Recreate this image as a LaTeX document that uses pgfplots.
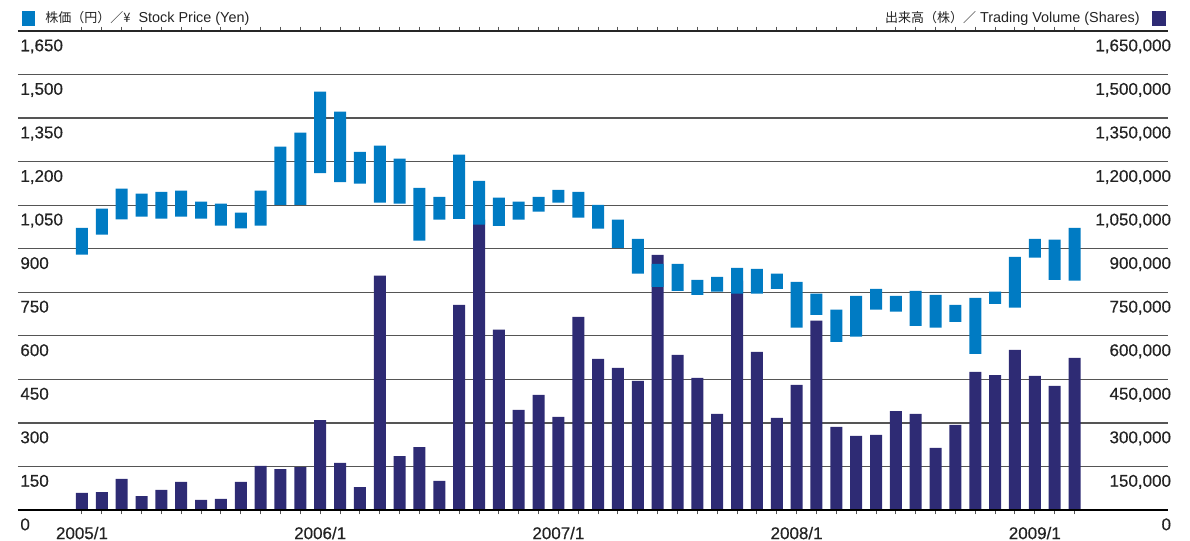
\documentclass[border=0pt]{standalone}
\usepackage{fontspec}
\setmainfont{Liberation Sans}
\newfontfamily\tickfont[FakeBold=0.4]{Liberation Sans}
\newfontfamily\cjk{Noto Sans CJK JP}
\usepackage{pgfplots}
\usepackage{pgfplotstable}
\pgfplotsset{compat=1.18}
\definecolor{price}{RGB}{0,123,195}
\definecolor{vol}{RGB}{46,43,116}
\definecolor{gridc}{RGB}{85,85,85}
\definecolor{txt}{RGB}{35,35,35}

\pgfplotstableread{
i low high vol
0 880 972 59000
1 949 1038 62000
2 1001 1107 107000
3 1011 1090 48000
4 1004 1096 69000
5 1011 1100 97000
6 1004 1062 35000
7 980 1055 38000
8 970 1024 97000
9 980 1100 152000
10 1051 1252 141000
11 1051 1300 148000
12 1160 1441 310000
13 1129 1372 162000
14 1124 1234 79000
15 1059 1255 807000
16 1055 1210 186000
17 928 1110 217000
18 1000 1079 100000
19 1003 1224 707000
20 983 1134 1000000
21 979 1076 621000
22 1000 1062 345000
23 1028 1079 397000
24 1059 1103 321000
25 1007 1096 665000
26 969 1051 521000
27 903 1000 490000
28 814 934 445000
29 769 848 879000
30 755 848 534000
31 741 793 455000
32 752 803 331000
33 745 834 790000
34 745 831 545000
35 762 814 317000
36 628 786 431000
37 672 745 652000
38 579 690 286000
39 597 738 255000
40 690 762 259000
41 683 738 341000
42 634 755 331000
43 628 741 214000
44 648 707 293000
45 538 731 476000
46 710 752 465000
47 697 872 552000
48 869 934 462000
49 793 931 428000
50 790 972 524000
}\data

\begin{document}
\begin{tikzpicture}
\useasboundingbox (-9pt,-15.5pt) rectangle (586pt,255pt);
\pgfplotsset{
  common/.style={
    scale only axis, width=575pt, height=239.5pt,
    xmin=-3.224, xmax=54.71, ymin=0,
    axis line style={draw=none},
    ytick style={draw=none},
    tick label style={font=\tickfont\fontsize{8.5}{10}\selectfont, text=txt},
    /pgf/number format/assume math mode=true,
    /pgf/number format/1000 sep={,},
    /pgf/number format/fixed,
    scaled y ticks=false,
  }
}
% volume axis (bottom layer)
\begin{axis}[common,
  ymax=1650000,
  ytick={0,150000,...,1650000},
  yticklabel pos=right,
  yticklabel style={anchor=north east, inner sep=0pt, yshift=-4pt, xshift=-0.5pt},
  ymajorgrids, grid style={gridc, line width=0.6pt},
  xtick={0,...,50},
  xticklabels={2005/1,,,,,,,,,,,,2006/1,,,,,,,,,,,,2007/1,,,,,,,,,,,,2008/1,,,,,,,,,,,,2009/1,,},
  tick align=outside,
  major tick length=2.2pt,
  xtick style={gridc, line width=0.5pt},
  xticklabel style={anchor=north, inner sep=0pt, yshift=-6pt},
]
\addplot[ybar, bar width=6pt, fill=vol, draw=none] table[x=i, y=vol] {\data};
\draw[black, line width=1pt] (rel axis cs:0,0) -- (rel axis cs:1,0);
\draw[black!85, line width=0.7pt] (rel axis cs:0,1) -- (rel axis cs:1,1);
\end{axis}
% price axis (top layer)
\begin{axis}[common,
  ymax=1650,
  ytick={0,150,...,1650},
  yticklabel pos=left,
  yticklabel style={anchor=north west, inner sep=0pt, yshift=-4pt, xshift=1pt},
  xtick=\empty,
  ybar stacked, bar width=6pt,
]
\addplot[fill=none, draw=none] table[x=i, y=low] {\data};
\addplot[fill=price, draw=none] table[x=i, y expr=\thisrow{high}-\thisrow{low}] {\data};
\end{axis}
% header
\fill[price] (2pt,242pt) rectangle (8.5pt,249.5pt);
\node[anchor=west, inner sep=0pt, text=txt, font=\fontsize{7.2}{9}\selectfont] at (13.5pt,245.8pt) {{\cjk\fontsize{6.5}{9}\selectfont 株価（円）／¥}\ \ Stock Price (Yen)};
\fill[vol] (567pt,242pt) rectangle (574pt,249.5pt);
\node[anchor=east, inner sep=0pt, text=txt, font=\fontsize{7.2}{9}\selectfont] at (561pt,245.8pt) {{\cjk\fontsize{6.5}{9}\selectfont 出来高（株）／}\ Trading Volume (Shares)};
\end{tikzpicture}
\end{document}
